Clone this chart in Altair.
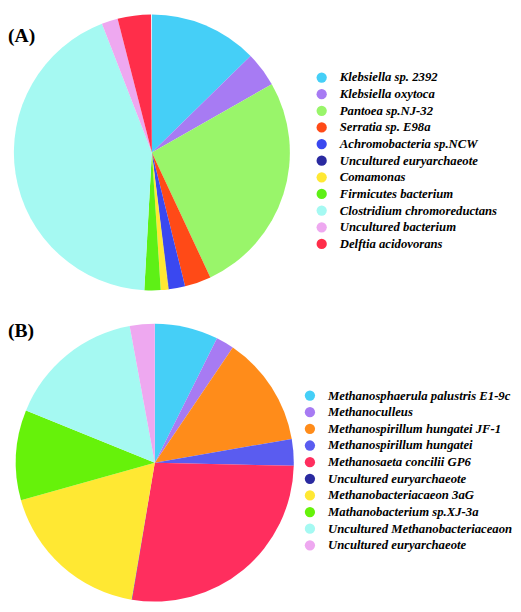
import altair as alt
import pandas as pd

# ---- Panel A data ----
a_names = ["Klebsiella sp. 2392", "Klebsiella oxytoca", "Pantoea sp.NJ-32", "Serratia sp. E98a",
           "Achromobacteria sp.NCW", "Uncultured euryarchaeote", "Comamonas", "Firmicutes bacterium",
           "Clostridium chromoreductans", "Uncultured bacterium", "Delftia acidovorans"]
a_values = [12.7, 4.1, 26.3, 3.1, 1.9, 0.05, 0.9, 1.9, 43.3, 1.9, 3.9]
a_colors = ["#45CFF7", "#A77BF3", "#99F56A", "#FF4A17", "#3A48F0", "#2A2AA0", "#FFE833",
            "#5EF016", "#A5F9F2", "#EEA8F0", "#FF2E4A"]

# ---- Panel B data ----
b_names = ["Methanosphaerula palustris E1-9c", "Methanoculleus", "Methanospirillum hungatei JF-1",
           "Methanospirillum hungatei", "Methanosaeta concilii GP6", "Uncultured euryarchaeote",
           "Methanobacteriacaeon 3aG", "Mathanobacterium sp.XJ-3a", "Uncultured Methanobacteriaceaon",
           "Uncultured euryarchaeote "]
b_values = [7.4, 2.1, 12.8, 3.1, 27.3, 0.05, 18.0, 10.5, 16.0, 2.9]
b_colors = ["#45CFF7", "#A77BF3", "#FF8C1A", "#5A5CF0", "#FF2E5E", "#2A2AA0", "#FFE833",
            "#66F20A", "#A5F9F2", "#EEA8F0"]

SERIF = "Liberation Serif"


def legend(x, y):
    return alt.Legend(orient="none", legendX=x, legendY=y, title=None, symbolType="circle",
                      symbolSize=110, symbolStrokeWidth=0, symbolOpacity=1,
                      labelFont=SERIF, labelFontStyle="italic", labelFontWeight="bold",
                      labelFontSize=13, labelColor="black", rowPadding=3, labelOffset=12,
                      padding=0, labelLimit=400)


def pie(names, values, colors, cx, cy, r, lx, ly):
    df = pd.DataFrame({"name": names, "value": values, "idx": list(range(len(names)))})
    return alt.Chart(df).mark_arc(radius=r).encode(
        theta=alt.Theta("value:Q", stack=True),
        color=alt.Color("name:N", scale=alt.Scale(domain=names, range=colors), legend=legend(lx, ly)),
        order=alt.Order("idx:Q"),
        x=alt.value(cx),
        y=alt.value(cy),
    )


def label(t, x, y):
    return alt.Chart(pd.DataFrame({"t": [t]})).mark_text(
        align="left", baseline="middle", font=SERIF, fontSize=20, fontWeight="bold", color="black"
    ).encode(text="t:N", x=alt.value(x), y=alt.value(y))


pie_a = pie(a_names, a_values, a_colors, 147, 141, 141, 314, 58)
pie_b = pie(b_names, b_values, b_colors, 150, 458, 142, 302, 383)

chart = alt.layer(
    pie_a, pie_b, label("(A)", 0, 22), label("(B)", 0, 324)
).resolve_scale(color="independent").properties(
    width=505, height=596, padding=0
).configure_view(stroke=None)

chart.save("out.html", embed_options={"renderer": "svg", "actions": False})
